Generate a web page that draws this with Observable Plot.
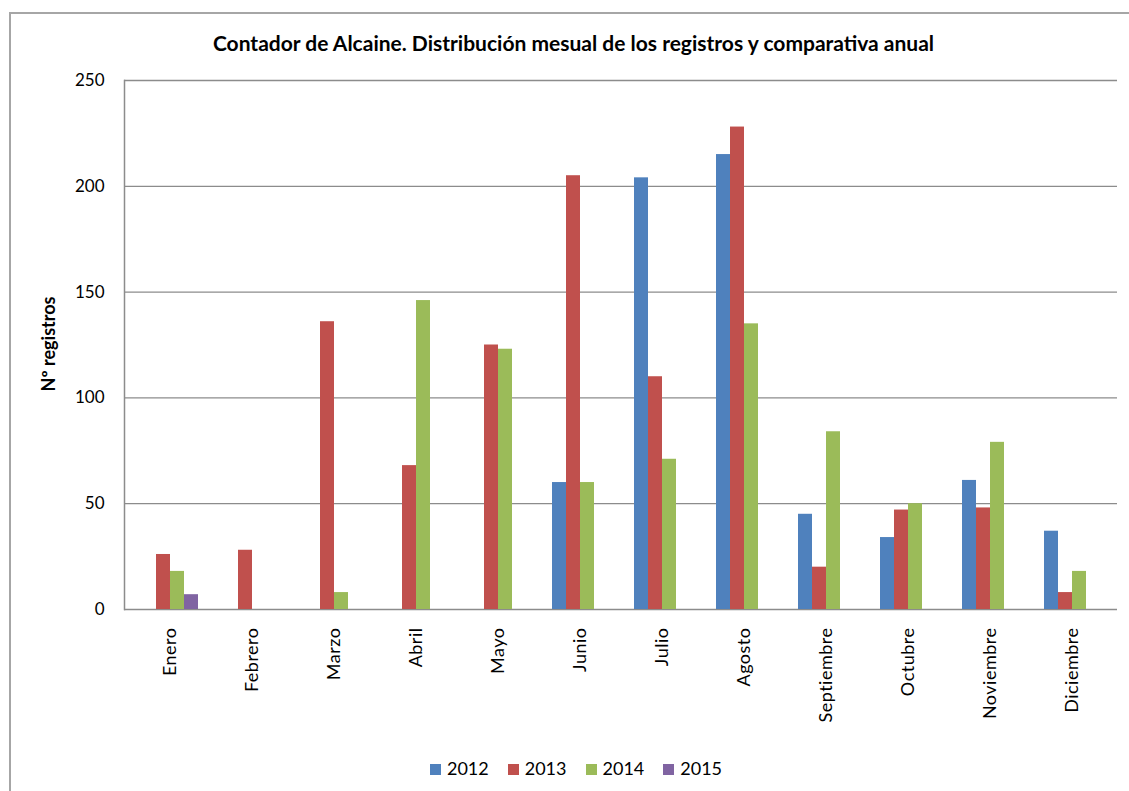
<!DOCTYPE html>
<html>
<head>
<meta charset="utf-8">
<script src="https://cdn.jsdelivr.net/npm/d3@7"></script>
<script src="https://cdn.jsdelivr.net/npm/@observablehq/plot@0.6"></script>
<style>
  html, body { margin: 0; padding: 0; background: #fff; }
  body { width: 1129px; height: 791px; position: relative; overflow: hidden; font-family: Lato, "Open Sans", sans-serif; }
  #border { position: absolute; left: 9px; top: 12px; width: 1200px; height: 900px; border-top: 2px solid #a6a6a6; border-left: 2px solid #a6a6a6; }
  #title { position: absolute; left: 0; width: 1147px; top: 30px; text-align: center; font-weight: bold; font-size: 21px; color: #000; }
  #ylabel { position: absolute; left: 48px; top: 344px; transform: translate(-50%, -50%) rotate(-90deg); font-weight: bold; font-size: 18px; white-space: nowrap; }
  #grid, #chart { position: absolute; left: 0; top: 60px; }
  #legend { position: absolute; left: 0; width: 1152px; top: 757px; text-align: center; font-size: 18px; }
  .item { display: inline-block; margin: 0 9.5px; }
  .sw { display: inline-block; width: 11px; height: 11px; margin-right: 6px; vertical-align: 0px; }
</style>
</head>
<body>
<div id="border"></div>
<div id="title"></div>
<div id="ylabel"></div>
<div id="grid"></div>
<div id="chart"></div>
<div id="legend"></div>
<script>
const titleText = "Contador de Alcaine. Distribución mesual de los registros y comparativa anual";
const yLabelText = "Nº registros";
const months = ["Enero", "Febrero", "Marzo", "Abril", "Mayo", "Junio", "Julio", "Agosto", "Septiembre", "Octubre", "Noviembre", "Diciembre"];
const years = ["2012", "2013", "2014", "2015"];
const v2012 = [null, null, null, null, null, 60, 204, 215, 45, 34, 61, 37];
const v2013 = [26, 28, 136, 68, 125, 205, 110, 228, 20, 47, 48, 8];
const v2014 = [18, null, 8, 146, 123, 60, 71, 135, 84, 50, 79, 18];
const v2015 = [7, null, null, null, null, null, null, null, null, null, null, null];
const colors = ["#4F81BD", "#C0504D", "#9BBB59", "#8064A2"];
const yTicks = [0, 50, 100, 150, 200, 250];

const series = [v2012, v2013, v2014, v2015];
const data = [];
series.forEach((vals, si) => {
  vals.forEach((v, mi) => {
    if (v != null) data.push({month: months[mi], year: years[si], value: v});
  });
});

document.getElementById("title").textContent = titleText;
document.getElementById("ylabel").textContent = yLabelText;

const common = {
  width: 1129,
  height: 680,
  marginLeft: 124,
  marginRight: 12,
  marginTop: 20,
  marginBottom: 131,
  style: {fontFamily: "Lato, 'Open Sans', sans-serif", fontSize: "16px", color: "#000", background: "transparent"}
};

// Background layer: gridlines, axis lines and y tick labels
const grid = Plot.plot({
  ...common,
  y: {domain: [0, 250], ticks: yTicks, tickSize: 0, tickPadding: 20, label: null, tickFormat: d3.format("d")},
  marks: [
    Plot.ruleY(yTicks.slice(1), {stroke: "#8c8c8c", strokeWidth: 1.3}),
    Plot.ruleY([0], {stroke: "#8c8c8c", strokeWidth: 1.5}),
    Plot.frame({anchor: "left", stroke: "#8c8c8c", strokeWidth: 1.5})
  ]
});
d3.select(grid).selectAll("text").attr("fill", "#000").style("font-size", "17px");
document.getElementById("grid").appendChild(grid);

// Foreground layer: grouped bars, month labels
const chart = Plot.plot({
  ...common,
  fx: {domain: months, paddingInner: 0.275, paddingOuter: 0.1375, label: null, tickRotate: -90, tickSize: 0, tickPadding: 18},
  x: {domain: years, axis: null, padding: 0},
  y: {domain: [0, 250], axis: null},
  color: {domain: years, range: colors},
  marks: [
    Plot.barY(data, {fx: "month", x: "year", y: "value", fill: "year"})
  ]
});
d3.select(chart).selectAll("text").attr("fill", "#000").style("font-size", "18px").style("letter-spacing", "0.5px");
document.getElementById("chart").appendChild(chart);

const legend = document.getElementById("legend");
years.forEach((y, i) => {
  const item = document.createElement("span");
  item.className = "item";
  const sw = document.createElement("span");
  sw.className = "sw";
  sw.style.background = colors[i];
  item.appendChild(sw);
  item.appendChild(document.createTextNode(y));
  legend.appendChild(item);
});
</script>
</body>
</html>
